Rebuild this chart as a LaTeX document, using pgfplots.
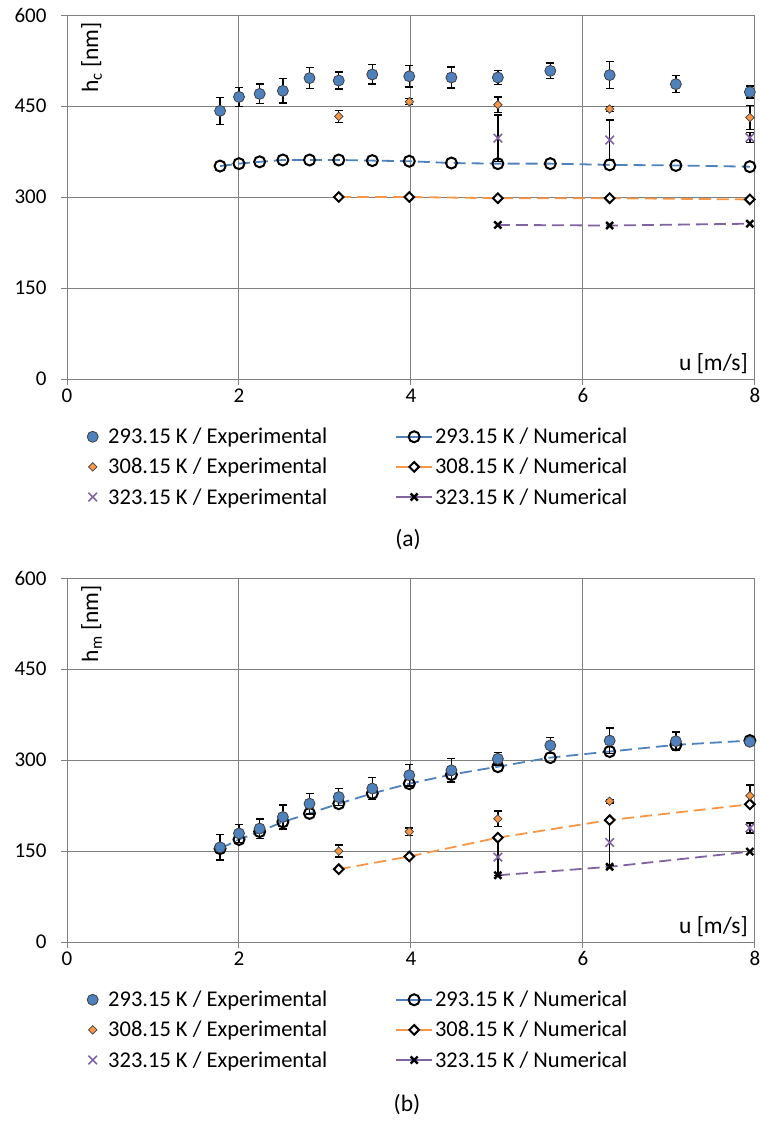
\documentclass[border=0pt]{standalone}
\usepackage{fontspec}
\setmainfont{Carlito}
\usepackage{pgfplots}
\usepackage{pgfplotstable}
\pgfplotsset{compat=1.18}
\newcommand\fs{\fontsize{21}{25}\selectfont}
\newcommand\fg{\fontsize{22.5}{26}\selectfont}
\newcommand\fl{\fontsize{23.5}{27}\selectfont}
\definecolor{xblue}{HTML}{4F81BD}
\definecolor{xorange}{HTML}{F79646}
\definecolor{xpurple}{HTML}{8064A2}
\definecolor{gridc}{HTML}{7F7F7F}

% ---- (a) h_c ----
\pgfplotstableread{
x y e
1.78 442 22
2.00 465 16
2.24 470 16
2.51 475 20
2.82 496 17
3.16 492 14
3.55 502 16
3.98 499 18
4.47 497 17
5.01 497 12
5.62 508 13
6.31 501 22
7.08 486 14
7.94 473 10
}\aexpA
\pgfplotstableread{
x y
1.78 351
2.00 355
2.24 358
2.51 361
2.82 361
3.16 361
3.55 360
3.98 359
4.47 356
5.01 355
5.62 355
6.31 353
7.08 352
7.94 350
}\anumA
\pgfplotstableread{
x y e
3.16 433 10
3.98 457 5
5.01 452 13
6.31 445 4
7.94 431 20
}\aexpB
\pgfplotstableread{
x y
3.16 300
3.98 300
5.01 298
6.31 298
7.94 296
}\anumB
\pgfplotstableread{
x y e
5.01 397 38
6.31 394 33
7.94 398 8
}\aexpC
\pgfplotstableread{
x y
5.01 254
6.31 253
7.94 256
}\anumC

% ---- (b) h_m ----
\pgfplotstableread{
x y e
1.78 156 21
2.00 179 15
2.24 187 16
2.51 206 20
2.82 228 17
3.16 239 14
3.55 253 18
3.98 275 18
4.47 283 19
5.01 302 10
5.62 324 13
6.31 332 21
7.08 331 15
7.94 330 5
}\bexpA
\pgfplotstableread{
x y
1.78 154
2.00 169
2.24 182
2.51 198
2.82 212
3.16 228
3.55 245
3.98 261
4.47 276
5.01 289
5.62 304
6.31 314
7.08 325
7.94 332
}\bnumA
\pgfplotstableread{
x y e
3.16 150 10
3.98 182 6
5.01 203 13
6.31 232 3
7.94 241 18
}\bexpB
\pgfplotstableread{
x y
3.16 120
3.98 141
5.01 172
6.31 201
7.94 227
}\bnumB
\pgfplotstableread{
x y e
5.01 140 30
6.31 164 38
7.94 188 8
}\bexpC
\pgfplotstableread{
x y
5.01 110
6.31 124
7.94 149
}\bnumC

\pgfplotsset{
  myaxis/.style={
    scale only axis, width=688pt, height=364pt,
    anchor=south west,
    xmin=0, xmax=8, ymin=0, ymax=600,
    xtick={0,2,4,6,8}, ytick={0,150,300,450,600},
    grid=major,
    major grid style={draw=gridc, line width=1pt},
    axis line style={draw=gridc, line width=1pt},
    tick align=outside, xtick pos=left, ytick pos=left,
    major tick length=6pt,
    tick style={draw=gridc, line width=1pt},
    tick label style={font=\fs},
    /pgf/number format/assume math mode=true,
    yticklabel style={xshift=-11pt},
    clip=false,
    legend columns=2,
    legend cell align=left,
    legend style={at={(axis description cs:0,0)}, anchor=north west,
      xshift=17pt, yshift=-44pt, draw=none, fill=none, font=\fg,
      inner sep=3pt, row sep=9pt, nodes={inner sep=2pt},
      /tikz/column 1/.style={column sep=8pt},
      /tikz/column 2/.style={column sep=66pt}},
  },
  expA/.style={only marks, mark=*, mark size=5.5pt,
    mark options={fill=xblue, draw=black!75, line width=0.8pt},
    error bars/.cd, y dir=both, y explicit,
    error bar style={black, line width=1.4pt},
    error mark options={black, mark size=4pt, line width=1.4pt, rotate=90}},
  expB/.style={only marks, mark=square*, mark size=3pt,
    mark options={rotate=45, fill=xorange, draw=black!75, line width=0.7pt},
    error bars/.cd, y dir=both, y explicit,
    error bar style={black, line width=1.4pt},
    error mark options={black, mark size=4pt, line width=1.4pt, rotate=90}},
  expC/.style={only marks, mark=x, mark size=6pt,
    mark options={draw=xpurple, line width=1.6pt},
    error bars/.cd, y dir=both, y explicit,
    error bar style={black, line width=1.4pt},
    error mark options={black, mark size=4pt, line width=1.4pt, rotate=90}},
  numline/.style={line width=1.8pt, dash pattern=on 12pt off 6pt,
    legend image code/.code={\draw[mark repeat=2,mark phase=2,##1,solid]
      plot coordinates {(0pt,0pt) (18pt,0pt) (36pt,0pt)};}},
  numA/.style={numline, draw=xblue, mark=o, mark size=5.5pt,
    mark options={solid, draw=black, fill=white, line width=2pt}},
  numB/.style={numline, draw=xorange, mark=square*, mark size=3.4pt,
    mark options={solid, rotate=45, draw=black, fill=white, line width=2pt}},
  numC/.style={numline, draw=xpurple, mark=x, mark size=5pt,
    mark options={solid, draw=black, line width=2.4pt}},
}

\begin{document}
\begin{tikzpicture}
\path[use as bounding box] (0pt,0pt) rectangle (760pt,-1122pt);

\begin{axis}[myaxis, at={(67pt,-379pt)}]
\addplot[numA] table[x=x,y=y] {\anumA};
\addplot[numB] table[x=x,y=y] {\anumB};
\addplot[numC] table[x=x,y=y] {\anumC};
\addplot[expA] table[x=x,y=y,y error=e] {\aexpA};
\addplot[expB] table[x=x,y=y,y error=e] {\aexpB};
\addplot[expC] table[x=x,y=y,y error=e] {\aexpC};
\node[rotate=90, anchor=north east, font=\fl, inner sep=0pt]
  at ([xshift=14pt,yshift=-7pt]rel axis cs:0,1) {h\textsubscript{c} [nm]};
\node[anchor=south east, font=\fl, inner sep=0pt]
  at ([xshift=-7pt,yshift=5pt]rel axis cs:1,0) {u [m/s]};
\end{axis}

\begin{axis}[myaxis, at={(67pt,-379pt)}, hide axis,
  legend entries={293.15 K / Experimental, 293.15 K / Numerical,
  308.15 K / Experimental, 308.15 K / Numerical,
  323.15 K / Experimental, 323.15 K / Numerical}]
\addlegendimage{expA}
\addlegendimage{numA}
\addlegendimage{expB}
\addlegendimage{numB}
\addlegendimage{expC}
\addlegendimage{numC}
\end{axis}

\node[font=\fl] at (408pt,-540pt) {(a)};

\begin{axis}[myaxis, at={(67pt,-942pt)}]
\addplot[numA] table[x=x,y=y] {\bnumA};
\addplot[numB] table[x=x,y=y] {\bnumB};
\addplot[numC] table[x=x,y=y] {\bnumC};
\addplot[expA] table[x=x,y=y,y error=e] {\bexpA};
\addplot[expB] table[x=x,y=y,y error=e] {\bexpB};
\addplot[expC] table[x=x,y=y,y error=e] {\bexpC};
\node[rotate=90, anchor=north east, font=\fl, inner sep=0pt]
  at ([xshift=14pt,yshift=-7pt]rel axis cs:0,1) {h\textsubscript{m} [nm]};
\node[anchor=south east, font=\fl, inner sep=0pt]
  at ([xshift=-7pt,yshift=5pt]rel axis cs:1,0) {u [m/s]};
\end{axis}

\begin{axis}[myaxis, at={(67pt,-942pt)}, hide axis,
  legend entries={293.15 K / Experimental, 293.15 K / Numerical,
  308.15 K / Experimental, 308.15 K / Numerical,
  323.15 K / Experimental, 323.15 K / Numerical}]
\addlegendimage{expA}
\addlegendimage{numA}
\addlegendimage{expB}
\addlegendimage{numB}
\addlegendimage{expC}
\addlegendimage{numC}
\end{axis}

\node[font=\fl] at (407pt,-1105pt) {(b)};
\end{tikzpicture}
\end{document}
